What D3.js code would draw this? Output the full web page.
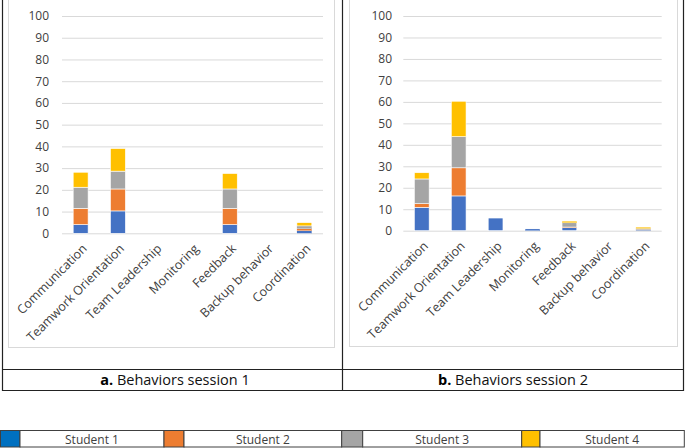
<!DOCTYPE html>
<html>
<head>
<meta charset="utf-8">
<script src="https://cdn.jsdelivr.net/npm/d3@7"></script>
<style>
  body { margin: 0; background: #fff; }
  text { font-family: "Open Sans", "Liberation Sans", sans-serif; fill: #404040; }
</style>
</head>
<body>
<div id="chart"></div>
<script>
//Categories and series
var categories = ["Communication", "Teamwork Orientation", "Team Leadership", "Monitoring", "Feedback", "Backup behavior", "Coordination"];
var students = ["Student 1", "Student 2", "Student 3", "Student 4"];
var colors = ["#4472C4", "#ED7D31", "#A5A5A5", "#FFC000"];
var legendColors = ["#0070C0", "#ED7D31", "#A5A5A5", "#FFC000"];
var yTicks = [0, 10, 20, 30, 40, 50, 60, 70, 80, 90, 100];

//Session 1 values, one array per student
var s1Student1 = [4, 10.3, 0, 0, 4, 0, 1.2];
var s1Student2 = [7.5, 10.1, 0, 0, 7.5, 0, 0.9];
var s1Student3 = [9.7, 8.2, 0, 0, 8.9, 0, 1.3];
var s1Student4 = [6.9, 10.4, 0, 0, 7.1, 0, 1.5];

//Session 2 values
var s2Student1 = [10.9, 16.2, 5.9, 0.8, 1.4, 0, 0.3];
var s2Student2 = [1.7, 13.1, 0, 0, 0.3, 0, 0.2];
var s2Student3 = [11.5, 14.5, 0, 0, 2.0, 0, 0.5];
var s2Student4 = [2.9, 16.5, 0, 0, 0.7, 0, 0.6];

var captions = [["a.", " Behaviors session 1"], ["b.", " Behaviors session 2"]];

var svgWidth = 685;
var svgHeight = 448;

var svg = d3.select("#chart")
  .append("svg")
  .attr("width", svgWidth)
  .attr("height", svgHeight);

function buildRows(arrs) {
  return categories.map(function(c, i) {
    var row = { category: c };
    students.forEach(function(s, j) { row[s] = arrs[j][i]; });
    return row;
  });
}

var panels = [
  { rows: buildRows([s1Student1, s1Student2, s1Student3, s1Student4]), left: 62, right: 323, top: 16, bottom: 233.3, tickX: 49, box: [8.5, 334.5, 347.5] },
  { rows: buildRows([s2Student1, s2Student2, s2Student3, s2Student4]), left: 403.3, right: 661.7, top: 16, bottom: 230.7, tickX: 392, box: [349.5, 677.5, 346.5] }
];

var stack = d3.stack().keys(students);

panels.forEach(function(p, pi) {
  //light chart frame
  svg.append("rect")
    .attr("x", p.box[0]).attr("y", -1)
    .attr("width", p.box[1] - p.box[0]).attr("height", p.box[2] + 1)
    .attr("fill", "none").attr("stroke", "#d9d9d9");

  var x = d3.scaleBand()
    .domain(categories)
    .range([p.left, p.right])
    .paddingInner(0.6)
    .paddingOuter(0.3);

  var y = d3.scaleLinear()
    .domain([0, 100])
    .range([p.bottom, p.top]);

  //gridlines
  var grid = svg.append("g")
    .attr("transform", "translate(" + p.left + ",0)")
    .call(d3.axisLeft(y).tickValues(yTicks).tickSize(-(p.right - p.left)).tickFormat(""));
  grid.select(".domain").remove();
  grid.selectAll("line").attr("stroke", "#d9d9d9");

  //y tick labels
  var yAxis = svg.append("g")
    .attr("transform", "translate(" + (p.tickX + 1) + ",0)")
    .call(d3.axisLeft(y).tickValues(yTicks).tickSize(0).tickPadding(1));
  yAxis.select(".domain").remove();
  yAxis.selectAll("text").style("font-size", "12px").attr("fill", "#333");

  //bars
  var series = stack(p.rows);
  svg.append("g").selectAll("g")
    .data(series)
    .join("g")
    .attr("fill", function(d, i) { return colors[i]; })
    .selectAll("rect")
    .data(function(d) { return d.filter(function(v) { return v[1] - v[0] > 0; }); })
    .join("rect")
    .attr("x", function(d) { return x(d.data.category); })
    .attr("y", function(d) { return y(d[1]); })
    .attr("width", x.bandwidth())
    .attr("height", function(d) { return y(d[0]) - y(d[1]); })
    .attr("stroke", "#fff")
    .attr("stroke-width", function(d) { return (y(d[0]) - y(d[1])) > 3 ? 0.6 : 0.2; });

  //x axis labels
  var xAxis = svg.append("g")
    .attr("transform", "translate(0," + p.bottom + ")")
    .call(d3.axisBottom(x).tickSize(0));
  xAxis.select(".domain").remove();
  xAxis.selectAll("text")
    .attr("x", 0).attr("y", 0).attr("dy", "0.35em")
    .attr("transform", "translate(4,13) rotate(-45)")
    .attr("text-anchor", "end")
    .style("font-size", "12.5px")
    .attr("fill", "#333");

  //caption
  var cx = pi === 0 ? 175 : 513;
  var cap = svg.append("text")
    .attr("x", cx).attr("y", 385)
    .attr("text-anchor", "middle")
    .style("font-size", "14.5px")
    .attr("fill", "#000");
  cap.append("tspan").style("font-weight", "bold").attr("fill", "#000").text(captions[pi][0]);
  cap.append("tspan").attr("fill", "#111").text(captions[pi][1]);
});

//table lines
var lineColor = "#222";
[2.5, 342.5, 683.5].forEach(function(lx) {
  svg.append("line").attr("x1", lx).attr("x2", lx).attr("y1", 0).attr("y2", 391)
    .attr("stroke", lineColor).attr("stroke-width", 1.2);
});
[369.5, 390.5].forEach(function(ly) {
  svg.append("line").attr("x1", 2).attr("x2", 684).attr("y1", ly).attr("y2", ly)
    .attr("stroke", lineColor).attr("stroke-width", 1.2);
});

//legend row
var legendEdges = [0.5, 20, 164, 184, 341.7, 362.7, 521.7, 540, 684.3];
var legend = svg.append("g");
students.forEach(function(s, i) {
  var x0 = legendEdges[i * 2], x1 = legendEdges[i * 2 + 1], x2 = legendEdges[i * 2 + 2];
  legend.append("rect")
    .attr("x", x0).attr("y", 430.5).attr("width", x1 - x0).attr("height", 16.5)
    .attr("fill", legendColors[i]).attr("stroke", "#404040");
  legend.append("rect")
    .attr("x", x1).attr("y", 430.5).attr("width", x2 - x1).attr("height", 16.5)
    .attr("fill", "#fff").attr("stroke", "#404040");
  legend.append("text")
    .attr("x", (x1 + x2) / 2).attr("y", 443.5)
    .attr("text-anchor", "middle")
    .style("font-size", "12px")
    .attr("fill", "#333")
    .text(s);
});
</script>
</body>
</html>
